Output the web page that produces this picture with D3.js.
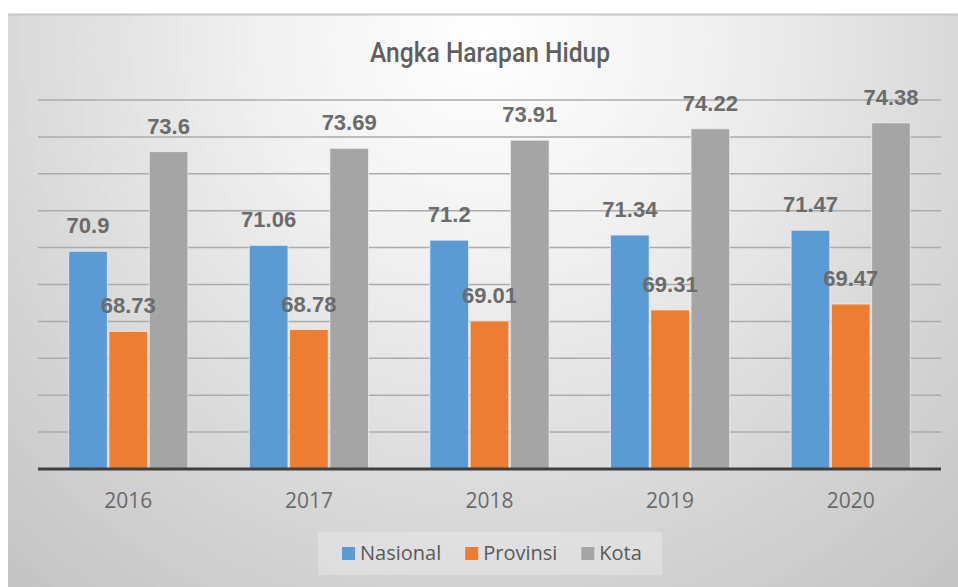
<!DOCTYPE html>
<html>
<head>
<meta charset="utf-8">
<script src="https://cdn.jsdelivr.net/npm/d3@7"></script>
<style>
  body { margin: 0; background: #ffffff; }
  svg { display: block; }
</style>
</head>
<body>
<div id="chart"></div>
<script>
// Data
const years = ["2016", "2017", "2018", "2019", "2020"];
const seriesNames = ["Nasional", "Provinsi", "Kota"];
const nasional = [70.9, 71.06, 71.2, 71.34, 71.47];
const provinsi = [68.73, 68.78, 69.01, 69.31, 69.47];
const kota = [73.6, 73.69, 73.91, 74.22, 74.38];
const seriesColors = ["#5b9bd5", "#ed7d31", "#a5a5a5"];
const yDomain = [65, 75];

const width = 958;
const height = 587;

const svg = d3.select("#chart")
  .append("svg")
  .attr("width", width)
  .attr("height", height);

// background gradient
const defs = svg.append("defs");
const grad = defs.append("radialGradient")
  .attr("id", "bg")
  .attr("gradientUnits", "userSpaceOnUse")
  .attr("cx", 483).attr("cy", 40).attr("r", 720);
grad.append("stop").attr("offset", "0").attr("stop-color", "#ffffff");
grad.append("stop").attr("offset", "0.3").attr("stop-color", "#f1f1f1");
grad.append("stop").attr("offset", "0.7").attr("stop-color", "#d6d6d6");
grad.append("stop").attr("offset", "1").attr("stop-color", "#c4c4c4");

svg.append("rect")
  .attr("x", 8).attr("y", 14)
  .attr("width", width - 8).attr("height", height - 14)
  .attr("fill", "url(#bg)");
svg.append("line")
  .attr("x1", 8).attr("x2", width)
  .attr("y1", 14.5).attr("y2", 14.5)
  .attr("stroke", "#c6c6c6")
  .attr("stroke-width", 2);

// scales
const x0 = d3.scaleBand()
  .domain(years)
  .range([38, 941])
  .paddingInner(0.34)
  .paddingOuter(0.17);

const x1 = d3.scaleBand()
  .domain(seriesNames)
  .range([0, x0.bandwidth()])
  .paddingInner(0.04);

const y = d3.scaleLinear()
  .domain(yDomain)
  .range([469, 100]);

const color = d3.scaleOrdinal()
  .domain(seriesNames)
  .range(seriesColors);

// gridlines
svg.append("g")
  .selectAll("line")
  .data(y.ticks(10).filter(d => d > yDomain[0]))
  .enter().append("line")
  .attr("x1", 38).attr("x2", 941)
  .attr("y1", d => y(d)).attr("y2", d => y(d))
  .attr("stroke", "#ababab")
  .attr("stroke-width", 1.5);

// bars
const rows = years.map((yr, i) => ({
  year: yr,
  values: [
    { name: "Nasional", value: nasional[i] },
    { name: "Provinsi", value: provinsi[i] },
    { name: "Kota", value: kota[i] }
  ]
}));

const groups = svg.append("g")
  .selectAll("g")
  .data(rows)
  .enter().append("g")
  .attr("transform", d => `translate(${x0(d.year)},0)`);

groups.selectAll("rect")
  .data(d => d.values)
  .enter().append("rect")
  .attr("x", d => x1(d.name))
  .attr("y", d => y(d.value))
  .attr("width", x1.bandwidth())
  .attr("height", d => y(yDomain[0]) - y(d.value))
  .attr("fill", d => color(d.name))
  .attr("stroke", "#f4f4f4")
  .attr("stroke-opacity", 0.7)
  .attr("stroke-width", 1);

// value labels
groups.selectAll("text")
  .data(d => d.values)
  .enter().append("text")
  .attr("x", d => x1(d.name) + x1.bandwidth() / 2)
  .attr("y", d => y(d.value) - 18)
  .attr("text-anchor", "middle")
  .attr("font-family", "Liberation Sans, Arial, sans-serif")
  .attr("font-weight", "bold")
  .attr("font-size", 22)
  .attr("fill", "#6b6b6b")
  .text(d => d.value);

// baseline
svg.append("line")
  .attr("x1", 38).attr("x2", 941)
  .attr("y1", y(yDomain[0])).attr("y2", y(yDomain[0]))
  .attr("stroke", "#3f3f3f")
  .attr("stroke-width", 3);

// x axis labels
svg.append("g")
  .selectAll("text")
  .data(years)
  .enter().append("text")
  .attr("x", d => x0(d) + x0.bandwidth() / 2)
  .attr("y", 508)
  .attr("text-anchor", "middle")
  .attr("font-family", "Open Sans, sans-serif")
  .attr("font-size", 21)
  .attr("fill", "#6a6a6a")
  .text(d => d);

// title
svg.append("text")
  .attr("x", 490)
  .attr("y", 62)
  .attr("text-anchor", "middle")
  .attr("font-family", "Roboto, sans-serif")
  .attr("font-weight", 500)
  .attr("font-size", 28)
  .attr("fill", "#5f5f5f")
  .attr("textLength", 240)
  .attr("lengthAdjust", "spacingAndGlyphs")
  .text("Angka Harapan Hidup");

// legend
const legend = svg.append("g");
legend.append("rect")
  .attr("x", 318).attr("y", 532)
  .attr("width", 344).attr("height", 43)
  .attr("fill", "#ffffff")
  .attr("fill-opacity", 0.25);

let lx = 342;
seriesNames.forEach(function(name) {
  legend.append("rect")
    .attr("x", lx).attr("y", 547)
    .attr("width", 13).attr("height", 13)
    .attr("fill", color(name));
  const t = legend.append("text")
    .attr("x", lx + 18)
    .attr("y", 560)
    .attr("font-family", "Open Sans, sans-serif")
    .attr("font-size", 20)
    .attr("fill", "#595959")
    .text(name);
  lx += 18 + t.node().getComputedTextLength() + 24;
});
</script>
</body>
</html>
